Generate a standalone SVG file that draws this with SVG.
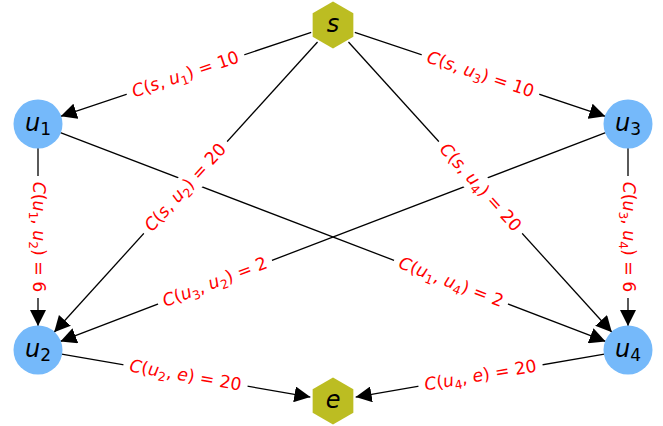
<svg xmlns="http://www.w3.org/2000/svg" width="663" height="426" viewBox="0 0 663 426">
<style>
.edge{stroke:#000;stroke-width:1.3;fill:none;marker-end:url(#arr)}
.circ{fill:#75b9fa}
.hex{fill:#bcbd22}
.nl{font-family:"DejaVu Sans",sans-serif;font-size:24px;text-anchor:middle;fill:#000}
.el{font-family:"DejaVu Sans",sans-serif;font-size:17.3px;text-anchor:middle;fill:#ff0000}
.bg{fill:#fff}
.i{font-style:italic}
.sub{font-size:12.3px}
.nsub{font-size:17px}
</style>
<defs>
<marker id="arr" markerUnits="userSpaceOnUse" markerWidth="16" markerHeight="16" viewBox="0 0 15 15" refX="15" refY="7.5" orient="auto">
<path d="M0,0 L15,7.5 L0,15 z" fill="#000"/>
</marker>
</defs>
<rect width="663" height="426" fill="#fff"/>
<g id="connectors">
<line class="edge" x1="311.2" y1="32.3" x2="60.75" y2="116.36"/>
<line class="edge" x1="354.8" y1="32.3" x2="605.25" y2="116.36"/>
<line class="edge" x1="317.54" y1="42.03" x2="54.13" y2="332.23"/>
<line class="edge" x1="348.46" y1="42.03" x2="611.87" y2="332.23"/>
<line class="edge" x1="38" y1="148" x2="38" y2="326"/>
<line class="edge" x1="628" y1="148" x2="628" y2="326"/>
<line class="edge" x1="60.41" y1="132.58" x2="605.59" y2="341.42"/>
<line class="edge" x1="605.59" y1="132.58" x2="60.41" y2="341.42"/>
<line class="edge" x1="61.65" y1="354.09" x2="310.34" y2="397.08"/>
<line class="edge" x1="604.35" y1="354.09" x2="355.66" y2="397.08"/>
</g>
<g id="edge-labels">
<g transform="translate(185.5,74.5) rotate(-18.55)">
<rect class="bg" x="-62" y="-12" width="124" height="24" rx="4"/>
<text class="el" y="5.5"><tspan class="i">C</tspan>(<tspan class="i">s</tspan>, <tspan class="i">u</tspan><tspan class="sub" dy="4">1</tspan><tspan dy="-4">) = 10</tspan></text>
</g>
<g transform="translate(480.5,74.5) rotate(18.55)">
<rect class="bg" x="-62" y="-12" width="124" height="24" rx="4"/>
<text class="el" y="5.5"><tspan class="i">C</tspan>(<tspan class="i">s</tspan>, <tspan class="i">u</tspan><tspan class="sub" dy="4">3</tspan><tspan dy="-4">) = 10</tspan></text>
</g>
<g transform="translate(185.5,187.5) rotate(-47.77)">
<rect class="bg" x="-62" y="-12" width="124" height="24" rx="4"/>
<text class="el" y="5.5"><tspan class="i">C</tspan>(<tspan class="i">s</tspan>, <tspan class="i">u</tspan><tspan class="sub" dy="4">2</tspan><tspan dy="-4">) = 20</tspan></text>
</g>
<g transform="translate(480.5,187.5) rotate(47.77)">
<rect class="bg" x="-62" y="-12" width="124" height="24" rx="4"/>
<text class="el" y="5.5"><tspan class="i">C</tspan>(<tspan class="i">s</tspan>, <tspan class="i">u</tspan><tspan class="sub" dy="4">4</tspan><tspan dy="-4">) = 20</tspan></text>
</g>
<g transform="translate(38,237) rotate(90)">
<rect class="bg" x="-61" y="-12" width="122" height="24" rx="4"/>
<text class="el" y="5.5"><tspan class="i">C</tspan>(<tspan class="i">u</tspan><tspan class="sub" dy="4">1</tspan><tspan dy="-4">, </tspan><tspan class="i">u</tspan><tspan class="sub" dy="4">2</tspan><tspan dy="-4">) = 6</tspan></text>
</g>
<g transform="translate(628,237) rotate(90)">
<rect class="bg" x="-61" y="-12" width="122" height="24" rx="4"/>
<text class="el" y="5.5"><tspan class="i">C</tspan>(<tspan class="i">u</tspan><tspan class="sub" dy="4">3</tspan><tspan dy="-4">, </tspan><tspan class="i">u</tspan><tspan class="sub" dy="4">4</tspan><tspan dy="-4">) = 6</tspan></text>
</g>
<g transform="translate(451,282.2) rotate(20.96)">
<rect class="bg" x="-61" y="-12" width="122" height="24" rx="4"/>
<text class="el" y="5.5"><tspan class="i">C</tspan>(<tspan class="i">u</tspan><tspan class="sub" dy="4">1</tspan><tspan dy="-4">, </tspan><tspan class="i">u</tspan><tspan class="sub" dy="4">4</tspan><tspan dy="-4">) = 2</tspan></text>
</g>
<g transform="translate(215,282.2) rotate(-20.96)">
<rect class="bg" x="-61" y="-12" width="122" height="24" rx="4"/>
<text class="el" y="5.5"><tspan class="i">C</tspan>(<tspan class="i">u</tspan><tspan class="sub" dy="4">3</tspan><tspan dy="-4">, </tspan><tspan class="i">u</tspan><tspan class="sub" dy="4">2</tspan><tspan dy="-4">) = 2</tspan></text>
</g>
<g transform="translate(185.5,375.5) rotate(9.81)">
<rect class="bg" x="-63" y="-12" width="126" height="24" rx="4"/>
<text class="el" y="5.5"><tspan class="i">C</tspan>(<tspan class="i">u</tspan><tspan class="sub" dy="4">2</tspan><tspan dy="-4">, </tspan><tspan class="i">e</tspan>) = 20</text>
</g>
<g transform="translate(480.5,375.5) rotate(-9.81)">
<rect class="bg" x="-63" y="-12" width="126" height="24" rx="4"/>
<text class="el" y="5.5"><tspan class="i">C</tspan>(<tspan class="i">u</tspan><tspan class="sub" dy="4">4</tspan><tspan dy="-4">, </tspan><tspan class="i">e</tspan>) = 20</text>
</g>
</g>
<g id="node-s" transform="translate(333,25)">
<polygon class="hex" points="0,-23.5 20.35,-11.75 20.35,11.75 0,23.5 -20.35,11.75 -20.35,-11.75"/>
<text class="nl" y="7"><tspan class="i">s</tspan></text>
</g>
<g id="node-e" transform="translate(333,401)">
<polygon class="hex" points="0,-23.5 20.35,-11.75 20.35,11.75 0,23.5 -20.35,11.75 -20.35,-11.75"/>
<text class="nl" y="7"><tspan class="i">e</tspan></text>
</g>
<g id="node-u1" transform="translate(38,124)">
<circle class="circ" r="24.5"/>
<text class="nl" y="6.5"><tspan class="i">u</tspan><tspan class="nsub" dy="4">1</tspan></text>
</g>
<g id="node-u2" transform="translate(38,350)">
<circle class="circ" r="24.5"/>
<text class="nl" y="6.5"><tspan class="i">u</tspan><tspan class="nsub" dy="4">2</tspan></text>
</g>
<g id="node-u3" transform="translate(628,124)">
<circle class="circ" r="24.5"/>
<text class="nl" y="6.5"><tspan class="i">u</tspan><tspan class="nsub" dy="4">3</tspan></text>
</g>
<g id="node-u4" transform="translate(628,350)">
<circle class="circ" r="24.5"/>
<text class="nl" y="6.5"><tspan class="i">u</tspan><tspan class="nsub" dy="4">4</tspan></text>
</g>
</svg>
